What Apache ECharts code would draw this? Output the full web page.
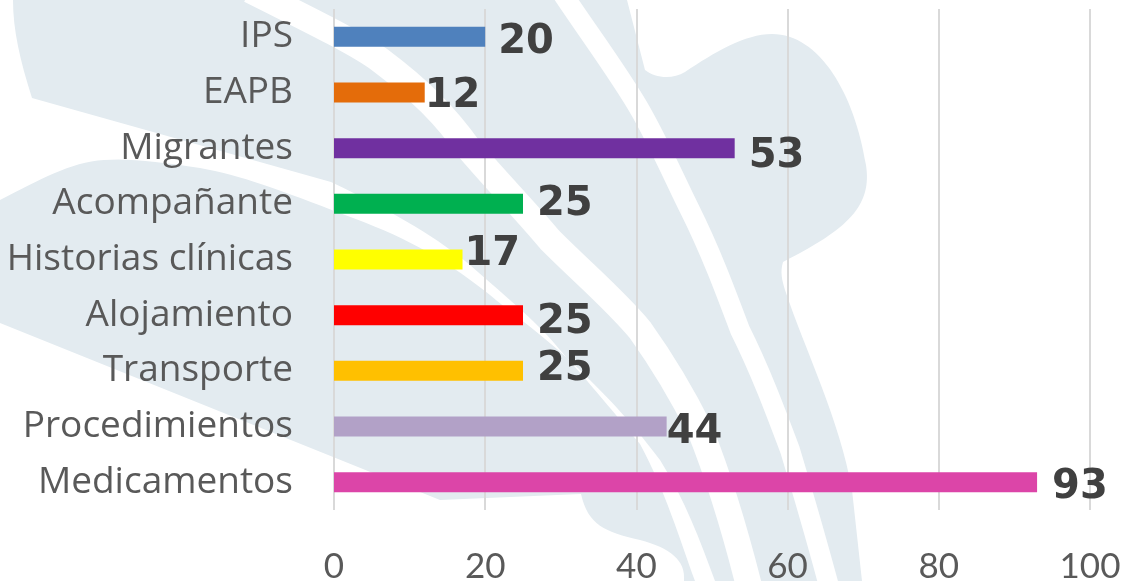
<!DOCTYPE html>
<html>
<head>
<meta charset="utf-8">
<script src="https://cdn.jsdelivr.net/npm/echarts@6/dist/echarts.min.js"></script>
<style>
  html, body { margin: 0; padding: 0; background: #fff; }
  #chart { width: 1128px; height: 581px; }
</style>
</head>
<body>
<div id="chart"></div>
<script>
// Categories top to bottom, as in the picture
const categories = ['IPS', 'EAPB', 'Migrantes', 'Acompañante', 'Historias clínicas',
  'Alojamiento', 'Transporte', 'Procedimientos', 'Medicamentos'];
const values = [20, 12, 53, 25, 17, 25, 25, 44, 93];
const xTicks = [0, 20, 40, 60, 80, 100];

// styling, kept apart from the data
const barColors = ['#4F81BD', '#E46C0A', '#7030A0', '#00B050', '#FFFF00',
  '#FF0000', '#FFC000', '#B2A1C7', '#DC45A8'];
// the data labels were dragged by hand in the original: [dx, dy] in px
const labelNudge = [[13, 6], [0, 4], [14, 8], [14, 1], [2, -5], [14, 7], [14, -1], [0, 6], [15, 5]];

const LIGHT = '#E3EBF0';

// watermark logo behind the plot (decoration only, not data)
function renderWatermark() {
  return {
    type: 'group',
    silent: true,
    children: [
      {
        type: 'path',
        shape: { pathData: 'M13,0 L627,0 L645,70 C655,78 672,80 685,72 C715,52 745,34 772,34 ' +
          'C820,34 855,95 866,165 C872,205 850,228 783,262 C780,272 782,280 785,290 ' +
          'C805,350 840,420 852,490 L862,581 L684,581 C686,560 670,548 640,540 ' +
          'C605,532 588,525 581,494 L440,500 L0,323 L0,98 L32,98 C20,60 13,30 13,0 Z' },
        style: { fill: LIGHT }
      },
      {
        type: 'path',
        shape: { pathData: 'M0,98 L32,98 L331,182 C400,215 440,240 470,265 C510,300 540,325 560,350 ' +
          'C600,395 620,420 640,444 C665,490 680,540 695,581 L715,581 C700,540 685,500 660,460 ' +
          'C630,420 610,400 585,375 C550,340 520,320 490,295 C440,255 400,235 345,215 ' +
          'C280,190 240,175 200,168 C160,162 130,158 104,160 C70,162 40,180 0,200 Z' },
        style: { fill: '#fff' }
      },
      {
        type: 'path',
        shape: { pathData: 'M250,-10 C320,25 360,45 380,60 C420,90 445,115 470,150 ' +
          'C500,185 525,210 550,240 C585,275 615,300 640,330 C665,365 685,400 700,430 C720,480 735,530 750,590' },
        style: { fill: null, stroke: '#fff', lineWidth: 26 }
      },
      {
        type: 'path',
        shape: { pathData: 'M560,-10 C590,35 620,75 640,110 C660,145 675,180 690,210 ' +
          'C710,250 725,290 740,330 C760,370 775,410 790,450 C805,500 818,545 830,590' },
        style: { fill: null, stroke: '#fff', lineWidth: 20 }
      }
    ]
  };
}

const chart = echarts.init(document.getElementById('chart'), null, { renderer: 'canvas' });

const option = {
  animation: false,
  backgroundColor: '#fff',
  grid: { left: 334, right: 38, top: 9, bottom: 71, containLabel: false, outerBoundsMode: 'none' },
  xAxis: {
    type: 'value',
    min: xTicks[0],
    max: xTicks[xTicks.length - 1],
    interval: xTicks[1] - xTicks[0],
    axisLine: { show: false },
    axisTick: { show: false },
    splitLine: { show: true, lineStyle: { color: '#D9D9D9', width: 2 } },
    axisLabel: {
      margin: 39,
      fontFamily: 'Lato',
      fontSize: 35,
      color: '#595959'
    }
  },
  yAxis: {
    type: 'category',
    data: categories,
    inverse: true,
    axisLine: { show: false },
    axisTick: { show: false },
    axisLabel: {
      margin: 41,
      fontFamily: 'Open Sans',
      fontSize: 37,
      color: '#595959'
    }
  },
  series: [
    {
      type: 'custom',
      coordinateSystem: 'none',
      silent: true,
      z: -5,
      data: [0],
      renderItem: renderWatermark
    },
    {
      type: 'bar',
      z: 5,
      barWidth: 20,
      data: values.map((v, i) => ({
        value: v,
        itemStyle: { color: barColors[i] },
        label: { offset: labelNudge[i] }
      })),
      label: {
        show: true,
        position: 'right',
        distance: 0,
        fontFamily: 'DejaVu Sans',
        fontWeight: 'bold',
        fontSize: 40,
        color: '#404040'
      }
    }
  ]
};

chart.setOption(option);
</script>
</body>
</html>
